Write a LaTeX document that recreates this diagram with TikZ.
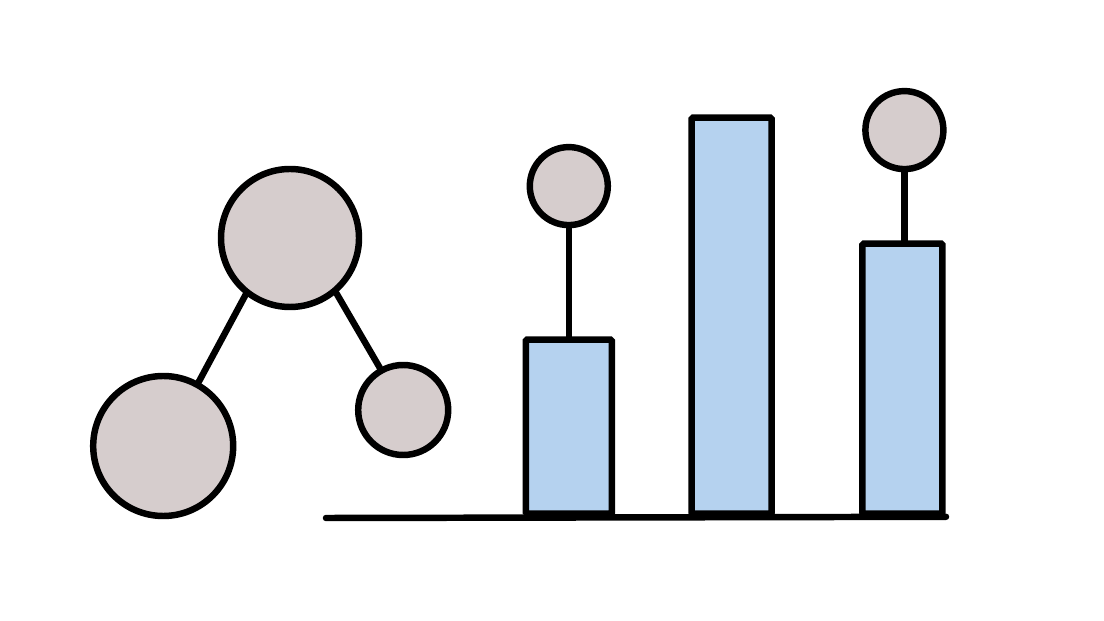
\documentclass[tikz,border=0pt]{standalone}
\usepackage{xcolor}
\usepackage{tikz}
\usetikzlibrary{positioning}

\definecolor{knotgrey}{HTML}{D6CDCD}
\definecolor{barblue}{HTML}{B5D2EF}

\begin{document}
\begin{tikzpicture}[
    knot/.style={circle, draw, fill=knotgrey, line width=4.6pt, inner sep=0pt},
    bar/.style={rectangle, draw, fill=barblue, line width=4.6pt, inner sep=0pt,
                anchor=south, rounded corners=1pt},
    link/.style={line width=4.6pt, line cap=round},
]
\useasboundingbox (0,0) rectangle (27.6,15.5);

% Tree
\node[knot, minimum size=3.45cm] (root) at (7.25,9.55) {};
\node[knot, minimum size=3.5cm] (leafa) at (4.08,4.35) {};
\node[knot, minimum size=2.25cm] (leafb) at (10.08,5.25) {};

% Baseline
\coordinate (axisl) at (8.15,2.55);
\coordinate (axisr) at (23.65,2.58);

% Bars
\node[bar, minimum width=2.15cm, minimum height=4.35cm] (bara) at (14.22,2.58) {};
\node[bar, minimum width=2.0cm, minimum height=9.9cm] (barb) at (18.29,2.58) {};
\node[bar, minimum width=2.0cm, minimum height=6.75cm] (barc) at (22.56,2.58) {};

% Heads
\node[knot, minimum size=1.95cm, above=2.7cm of bara] (heada) {};
\node[knot, minimum size=1.95cm, above=1.7cm of barc.north, xshift=0.05cm] (headc) {};

% Lines
\draw[link] (root.232) -- (leafa.61);
\draw[link] (root.310) -- (leafb.119);
\draw[link] (heada) -- (bara);
\draw[link] (headc.south) -- (headc.south |- barc.north);
\draw[link] (axisl) -- (axisr);

\end{tikzpicture}
\end{document}
